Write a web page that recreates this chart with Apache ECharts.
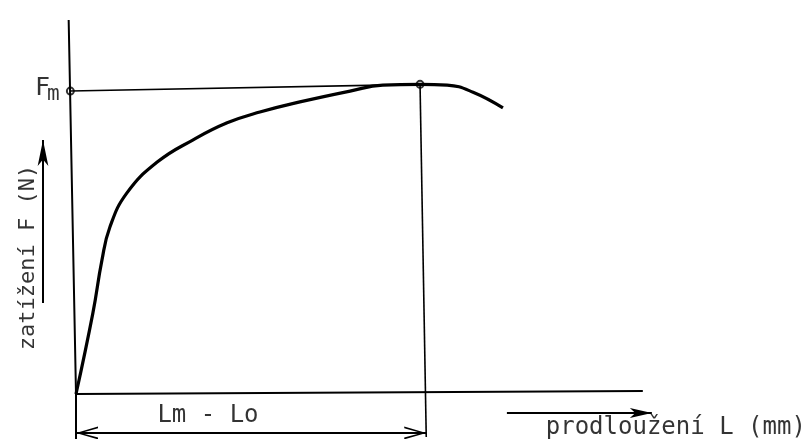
<!DOCTYPE html>
<html>
<head>
<meta charset="utf-8">
<script src="https://cdn.jsdelivr.net/npm/echarts@6/dist/echarts.min.js"></script>
<style>html,body{margin:0;padding:0;background:#fff}#c{width:803px;height:439px}</style>
</head>
<body>
<div id="c"></div>
<script>
// Tensile test curve (schematic): elongation (x) vs load (y), arbitrary units
const elongation = [0, 3.0, 4.6, 6.0, 9.0, 14.4, 20.7, 26.8, 32.6, 39.7, 48.6, 54.4, 61.0, 65.8, 70.4, 75.7];
const load       = [0, 21.7, 35.8, 44.6, 53.7, 62.0, 67.9, 72.5, 75.4, 78.1, 81.0, 82.6, 82.8, 82.6, 80.7, 76.5];
const Lm = 61.0;      // elongation at maximum load
const Fm = 82.8;      // maximum load
const yAxisPts = [[-1.3, 100], [0, 0], [0, -12]];
const xAxisPts = [[0, 0], [100.5, 0.8]];
const fmLinePts = [[-1.0, 81.0], [Lm, Fm]];
const lmLinePts = [[Lm, Fm], [62.1, -11.5]];
const dimY = -10.4;
const dimEnds = [0, 62.1];
const xLabelArrow = [[76.4, -5.1], [102.1, -5.1]];
const yLabelArrow = [[-5.85, 24.3], [-5.85, 67.9]];
const labelFm = [-2.8, 81.6];
const labelY = [-8.5, 36.5];
const labelDim = [23.4, -5.9];
const labelX = [83.2, -8.9];
const texts = { y: 'zatížení F (N)', x: 'prodloužení L (mm)', dim: 'Lm - Lo' };

const chev = 'path://M0,22 L7,0 L14,22 L12,22 L7,5 L2,22 Z';
const font = 'DejaVu Sans Mono';
const black = '#000';

function lineSeries(pts, w) {
  return { type: 'line', data: pts, symbol: 'none', clip: false, silent: true,
           lineStyle: { color: black, width: w }, animation: false };
}
function textPoint(pt, text, extra) {
  return { type: 'scatter', clip: false, silent: true, animation: false,
    symbolSize: 1, itemStyle: { color: 'rgba(0,0,0,0)' },
    data: [{ value: pt, label: Object.assign({ show: true, position: 'inside', color: black,
      fontFamily: font, fontSize: 24, formatter: text }, extra) }] };
}
function end(coord, symbol, size, offsetY) {
  return { coord: coord, symbol: symbol, symbolSize: size, symbolOffset: [0, offsetY] };
}

const option = {
  animation: false,
  backgroundColor: '#fff',
  grid: { left: 19.6, right: 140.44, top: 20, bottom: 0.12 },
  xAxis: { type: 'value', min: -10, max: 104, show: false },
  yAxis: { type: 'value', min: -12, max: 100, show: false },
  series: [
    lineSeries(yAxisPts, 2),
    lineSeries(xAxisPts, 2),
    lineSeries(fmLinePts, 1.6),
    lineSeries(lmLinePts, 1.6),
    { type: 'line', data: elongation.map((x, i) => [x, load[i]]), smooth: 0.45,
      symbol: 'none', clip: false, lineStyle: { color: black, width: 3.2 }, animation: false },
    { type: 'scatter', clip: false, silent: true, animation: false, symbol: 'emptyCircle', symbolSize: 7,
      itemStyle: { color: black, borderColor: black, borderWidth: 1.6 },
      data: [fmLinePts[0], [Lm, Fm]] },
    // dimension line Lm - Lo and axis-label arrows
    { type: 'line', data: [], clip: false, animation: false,
      markLine: { silent: true, animation: false,
        lineStyle: { color: black, width: 2, type: 'solid' }, label: { show: false },
        data: [
          [end([dimEnds[0], dimY], chev, [13, 22], 11), end([dimEnds[1], dimY], chev, [13, 22], 11)],
          [end(xLabelArrow[0], 'none', [1, 1], 0), end(xLabelArrow[1], 'arrow', [7.5, 22], 0)],
          [end(yLabelArrow[0], 'none', [1, 1], 0), end(yLabelArrow[1], 'arrow', [8, 26], 0)]
        ] } },
    textPoint(labelFm, '{F|F}{m|m}', { position: 'left', distance: 0,
      rich: { F: { fontFamily: font, fontSize: 25, color: black },
              m: { fontFamily: font, fontSize: 21, color: black, padding: [12, 0, 0, -3] } } }),
    textPoint(labelY, texts.y, { rotate: 90, fontSize: 22 }),
    textPoint(labelDim, texts.dim, {}),
    textPoint(labelX, texts.x, { position: 'right', distance: 0 })
  ]
};
echarts.init(document.getElementById('c'), null, { renderer: 'canvas' }).setOption(option);
</script>
</body>
</html>
